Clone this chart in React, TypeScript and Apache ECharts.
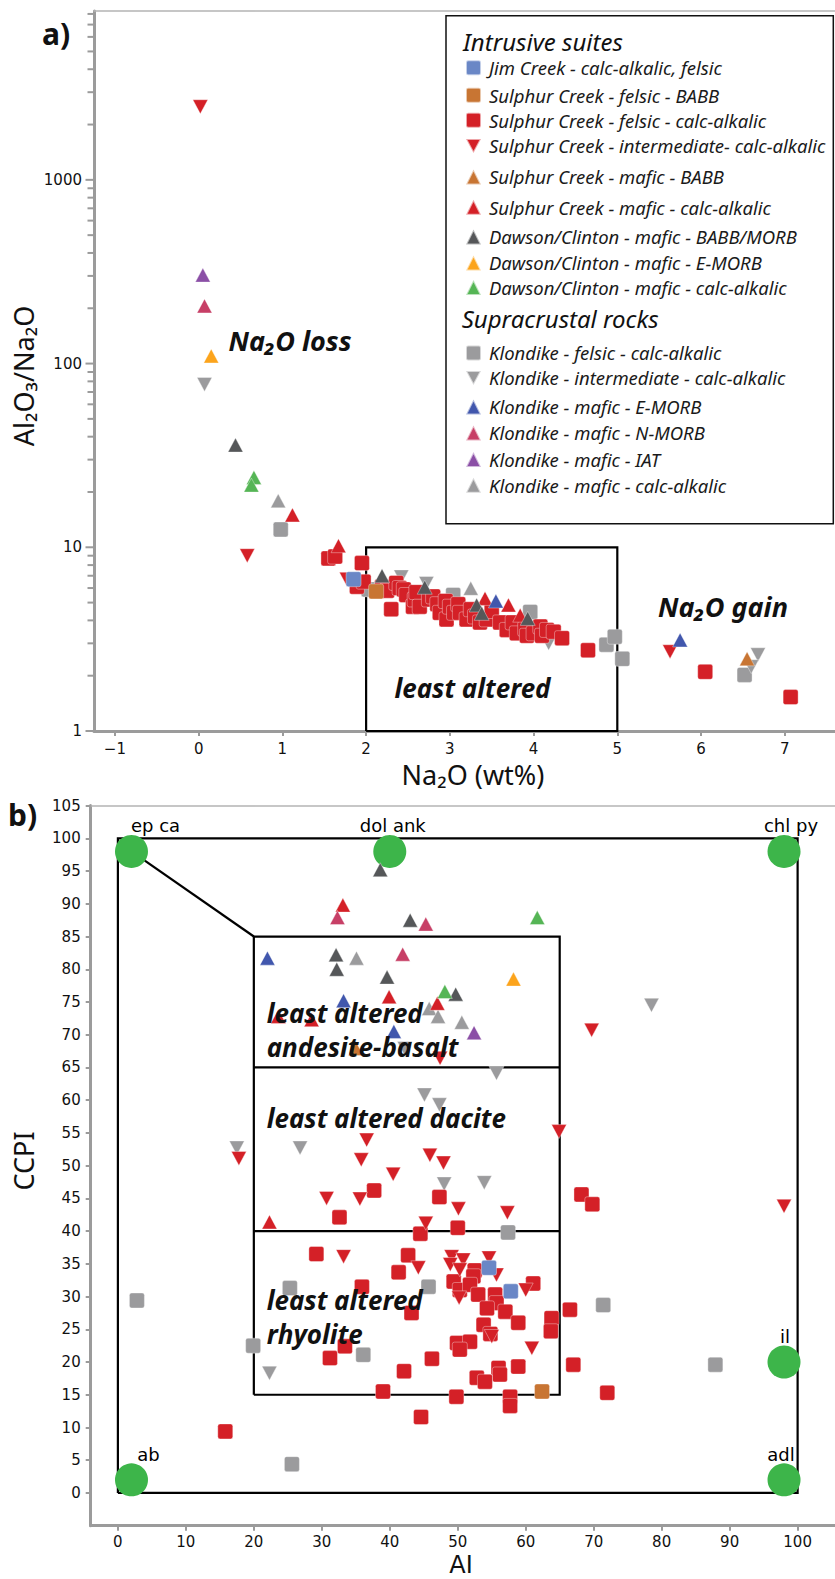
import { useEffect, useRef } from 'react';
import * as echarts from 'echarts';

// ---------- Groups (legend order) ----------
const intrusiveNames = [
  'Jim Creek - calc-alkalic, felsic',
  'Sulphur Creek - felsic - BABB',
  'Sulphur Creek - felsic - calc-alkalic',
  'Sulphur Creek - intermediate- calc-alkalic',
  'Sulphur Creek - mafic - BABB',
  'Sulphur Creek - mafic - calc-alkalic',
  'Dawson/Clinton - mafic - BABB/MORB',
  'Dawson/Clinton - mafic - E-MORB',
  'Dawson/Clinton - mafic - calc-alkalic',
];
const supracrustalNames = [
  'Klondike - felsic - calc-alkalic',
  'Klondike - intermediate - calc-alkalic',
  'Klondike - mafic - E-MORB',
  'Klondike - mafic - N-MORB',
  'Klondike - mafic - IAT',
  'Klondike - mafic - calc-alkalic',
];

// ---------- a) Na2O (wt%) vs Al2O3/Na2O ----------
const jimCreekNa2o = [[1.85, 6.7]];
const sulphurFelsicBabbNa2o = [[2.12, 5.75]];
const sulphurFelsicCaNa2o = [
  [1.55, 8.7], [1.63, 8.9], [1.95, 8.2], [1.89, 6.1], [1.97, 6.5], [2.19, 6.1], [2.25, 5.8],
  [2.3, 4.6], [2.36, 6.4], [2.4, 6.0], [2.45, 5.9], [2.48, 5.5], [2.56, 4.75], [2.58, 5.2],
  [2.6, 5.7], [2.64, 4.75], [2.75, 5.2], [2.8, 5.4], [2.85, 4.9], [2.88, 4.4], [2.95, 5.1],
  [2.96, 4.05], [3.0, 4.75], [3.05, 4.4], [3.1, 4.9], [3.12, 4.4], [3.2, 4.05], [3.25, 4.6],
  [3.3, 4.2], [3.36, 3.9], [3.44, 4.05], [3.5, 4.5], [3.6, 3.9], [3.68, 3.55], [3.75, 3.9],
  [3.8, 3.4], [3.9, 3.6], [3.92, 3.3], [4.0, 3.4], [4.08, 3.7], [4.1, 3.3], [4.16, 3.55],
  [4.24, 3.47], [4.34, 3.2], [4.65, 2.75], [6.05, 2.1], [7.07, 1.53],
];
const sulphurIntNa2o = [[0.02, 2500], [0.58, 9.0], [1.77, 6.7], [5.63, 2.7]];
const sulphurMaficBabbNa2o = [[6.55, 2.47]];
const sulphurMaficCaNa2o = [[1.12, 15], [1.67, 10.2], [3.42, 5.27], [3.7, 4.85], [3.84, 4.27]];
const dawsonBabbNa2o = [[0.44, 36], [2.19, 7.0], [2.7, 6.06], [3.32, 4.85], [3.38, 4.37], [3.93, 4.1]];
const dawsonEmorbNa2o = [[0.15, 110]];
const dawsonCaNa2o = [[0.66, 24], [0.63, 21.8]];
const klondikeFelsicNa2o = [
  [0.98, 12.5], [2.03, 5.9], [3.04, 5.5], [3.84, 3.55], [3.96, 4.45], [4.87, 2.95],
  [4.97, 3.26], [5.06, 2.47], [6.52, 2.02],
];
const klondikeIntNa2o = [[0.07, 77], [2.42, 6.9], [2.72, 6.35], [4.18, 3.0], [6.68, 2.6], [6.6, 2.24]];
const klondikeEmorbNa2o = [[3.55, 5.1], [5.75, 3.13]];
const klondikeNmorbNa2o = [[0.07, 206]];
const klondikeIatNa2o = [[0.05, 303]];
const klondikeMaficCaNa2o = [[0.95, 17.9], [3.25, 5.98]];

// ---------- b) AI vs CCPI (alteration box plot) ----------
const jimCreekAi = [[54.6, 34.4], [57.8, 30.8]];
const sulphurFelsicBabbAi = [[62.4, 15.5]];
const sulphurFelsicCaAi = [
  [37.7, 46.2], [47.3, 45.2], [68.2, 45.6], [69.8, 44.1], [32.6, 42.1], [44.5, 39.6], [50.0, 40.5],
  [29.2, 36.5], [42.7, 36.3], [41.3, 33.7], [52.5, 34.0], [52.3, 33.1], [49.4, 32.3], [50.3, 31.0],
  [51.8, 31.8], [53.0, 30.3], [35.9, 31.5], [61.1, 32.0], [55.5, 30.3], [55.7, 29.0], [57.0, 27.7],
  [54.3, 28.2], [43.2, 27.5], [66.5, 28.0], [63.8, 26.7], [63.7, 24.7], [58.9, 26.0], [53.8, 25.7],
  [54.8, 24.3], [49.9, 22.9], [51.8, 23.1], [50.3, 21.9], [33.4, 22.4], [31.2, 20.6], [46.2, 20.5],
  [42.1, 18.6], [67.0, 19.6], [58.9, 19.3], [56.0, 19.1], [56.2, 18.1], [52.8, 17.6], [54.0, 17.0],
  [39.0, 15.5], [49.8, 14.7], [57.7, 14.7], [57.7, 13.3], [72.0, 15.3], [44.6, 11.6], [15.8, 9.4],
];
const sulphurIntAi = [
  [36.6, 53.9], [35.8, 50.9], [17.8, 51.1], [40.5, 48.7], [45.9, 51.6], [47.9, 50.4], [30.7, 45.0],
  [35.6, 44.9], [50.1, 43.4], [57.3, 42.8], [45.3, 41.2], [33.2, 36.1], [44.2, 34.4], [49.1, 36.1],
  [50.8, 35.6], [48.9, 34.9], [50.3, 34.1], [54.6, 35.9], [55.7, 33.3], [50.2, 29.8], [60.0, 31.0],
  [55.0, 23.9], [60.9, 22.1], [64.9, 55.2], [69.7, 70.7], [47.4, 66.4], [98.0, 43.8],
];
const sulphurMaficBabbAi = [[35.0, 67.9]];
const sulphurMaficCaAi = [[33.1, 89.8], [39.9, 75.8], [47.0, 74.8], [23.6, 72.8], [28.5, 72.3], [22.3, 41.4]];
const dawsonBabbAi = [[38.6, 95.2], [43.0, 87.5], [32.1, 82.2], [32.2, 80.0], [39.6, 78.8], [49.7, 76.2]];
const dawsonEmorbAi = [[58.2, 78.5]];
const dawsonCaAi = [[61.7, 87.9], [48.1, 76.6]];
const klondikeFelsicAi = [
  [2.8, 29.4], [25.3, 31.3], [19.9, 22.5], [36.1, 21.1], [25.6, 4.4], [45.7, 31.5],
  [57.4, 39.8], [71.4, 28.7], [87.9, 19.6],
];
const klondikeIntAi = [
  [17.5, 52.7], [26.8, 52.7], [22.3, 18.3], [48.0, 47.2], [53.9, 47.4], [45.1, 60.8],
  [47.3, 59.3], [55.7, 64.1], [78.5, 74.5], [42.2, 67.9],
];
const klondikeEmorbAi = [[22.0, 81.7], [33.2, 75.2], [40.6, 70.5]];
const klondikeNmorbAi = [[32.3, 87.9], [45.3, 86.9], [41.9, 82.3]];
const klondikeIatAi = [[52.4, 70.3]];
const klondikeMaficCaAi = [[35.1, 81.7], [45.8, 74.0], [47.1, 72.8], [50.6, 71.9]];

// Mineral end-members of the box plot
const endMemberNames = ['ep ca', 'dol ank', 'chl py', 'il', 'ab', 'adl'];
const endMemberValues = [[2, 98], [40, 98], [98, 98], [98, 20], [2, 2], [98, 2]];
const endMemberLabelShift = [24, 3, 7, 1, 17, -3];

// Field outlines
const na2oFieldLines = [[[2, 1], [5, 1], [5, 10], [2, 10], [2, 1]]];
const aiFieldLines = [
  [[0, 0], [100, 0], [100, 100], [0, 100], [0, 0]],
  [[20, 15], [65, 15], [65, 85], [20, 85], [20, 15]],
  [[20, 40], [65, 40]],
  [[20, 65], [65, 65]],
  [[2, 98], [20, 85]],
];

// Axis ticks
const na2oTicks = [-1, 0, 1, 2, 3, 4, 5, 6, 7];
const ratioMajorTicks = [1, 10, 100, 1000];
const ratioMinorTicks = [
  2, 3, 4, 5, 6, 7, 8, 9,
  20, 30, 40, 50, 60, 70, 80, 90,
  200, 300, 400, 500, 600, 700, 800, 900,
  2000, 3000, 4000, 5000, 6000, 7000, 8000,
];
const aiTicks = [0, 10, 20, 30, 40, 50, 60, 70, 80, 90, 100];
const ccpiTicks = [0, 5, 10, 15, 20, 25, 30, 35, 40, 45, 50, 55, 60, 65, 70, 75, 80, 85, 90, 95, 100, 105];

// ---------- Marker styles ----------
const SQUARE = 'path://M1.5,0H8.5Q10,0 10,1.5V8.5Q10,10 8.5,10H1.5Q0,10 0,8.5V1.5Q0,0 1.5,0Z';
const UP = 'triangle';
const DOWN = 'path://M0,0H10L5,9.3Z';

const RED = '#d42027';
const GREY = '#9b9b9d';

const groups = [
  { name: intrusiveNames[0], color: '#6a87c6', marker: SQUARE, a: jimCreekNa2o, b: jimCreekAi },
  { name: intrusiveNames[1], color: '#c87533', marker: SQUARE, a: sulphurFelsicBabbNa2o, b: sulphurFelsicBabbAi },
  { name: intrusiveNames[2], color: RED, marker: SQUARE, a: sulphurFelsicCaNa2o, b: sulphurFelsicCaAi },
  { name: intrusiveNames[3], color: RED, marker: DOWN, a: sulphurIntNa2o, b: sulphurIntAi },
  { name: intrusiveNames[4], color: '#c87533', marker: UP, a: sulphurMaficBabbNa2o, b: sulphurMaficBabbAi },
  { name: intrusiveNames[5], color: RED, marker: UP, a: sulphurMaficCaNa2o, b: sulphurMaficCaAi },
  { name: intrusiveNames[6], color: '#555759', marker: UP, a: dawsonBabbNa2o, b: dawsonBabbAi },
  { name: intrusiveNames[7], color: '#fca41c', marker: UP, a: dawsonEmorbNa2o, b: dawsonEmorbAi },
  { name: intrusiveNames[8], color: '#55b555', marker: UP, a: dawsonCaNa2o, b: dawsonCaAi },
  { name: supracrustalNames[0], color: GREY, marker: SQUARE, a: klondikeFelsicNa2o, b: klondikeFelsicAi },
  { name: supracrustalNames[1], color: GREY, marker: DOWN, a: klondikeIntNa2o, b: klondikeIntAi },
  { name: supracrustalNames[2], color: '#4157ad', marker: UP, a: klondikeEmorbNa2o, b: klondikeEmorbAi },
  { name: supracrustalNames[3], color: '#c73f66', marker: UP, a: klondikeNmorbNa2o, b: klondikeNmorbAi },
  { name: supracrustalNames[4], color: '#8b4fa6', marker: UP, a: klondikeIatNa2o, b: klondikeIatAi },
  { name: supracrustalNames[5], color: GREY, marker: UP, a: klondikeMaficCaNa2o, b: klondikeMaficCaAi },
];

// Paint order: grey felsic samples at the back, triangles on top
const drawOrder = [9, 10, 2, 3, 1, 0, 14, 4, 5, 6, 7, 8, 11, 12, 13];

// Legend row centres (px)
const legendRowY = [67.5, 95, 120, 145.7, 176.7, 207, 236.7, 262.7, 287.3, 352.7, 377.7, 406.7, 432.7, 459.3, 485];

const AXIS_GREY = '#9b9b9b';
const TICK_FONT = '"DejaVu Sans", sans-serif';
const TEXT_FONT = '"Noto Sans", "Open Sans", "DejaVu Sans", sans-serif';

const TOP_X = [-1.25, 7.6];
const TOP_Y = [1, 8300];
const BOT_X = [-4, 105.5];
const BOT_Y = [-5, 105];

function outlineSeries(lines: number[][][], xi: number, yi: number) {
  return {
    type: 'custom',
    xAxisIndex: xi,
    yAxisIndex: yi,
    silent: true,
    clip: false,
    data: lines.map((l) => l[0]),
    renderItem: (params: any, api: any) => ({
      type: 'polyline',
      shape: { points: lines[params.dataIndex].map((p) => api.coord(p)) },
      style: { stroke: '#000', lineWidth: 2.2, fill: null },
    }),
  };
}

function text(x: number, y: number, t: string, extra: any = {}, elExtra: any = {}) {
  return {
    type: 'text',
    x,
    y,
    z: 100,
    ...elExtra,
    style: {
      text: t,
      fill: '#111',
      fontFamily: TEXT_FONT,
      fontSize: 26,
      align: 'left',
      verticalAlign: 'middle',
      ...extra,
    },
  };
}

function buildOption(): any {
  const tickLabel = { fontFamily: TICK_FONT, fontSize: 15, color: '#111' };
  const mainLine = { show: true, onZero: false, lineStyle: { color: AXIS_GREY, width: 3 } };
  const tickStyle = { color: AXIS_GREY, width: 2 };
  const borderAxis = (grid: number, ext: number[]) => ({
    gridIndex: grid,
    type: 'value',
    position: 'top',
    min: ext[0],
    max: ext[1],
    axisLine: { show: true, onZero: false, lineStyle: { color: '#b4b4b4', width: 1.5 } },
    axisTick: { show: false },
    axisLabel: { show: false },
    splitLine: { show: false },
  });

  const scatter = drawOrder.flatMap((gi) => {
    const g = groups[gi];
    const base = {
      type: 'scatter',
      name: g.name,
      symbol: g.marker,
      symbolSize: g.marker === SQUARE ? [15, 15] : [15, 14],
      itemStyle: { color: g.color, borderColor: 'rgba(255,255,255,0.6)', borderWidth: 0.6, opacity: 1 },
      emphasis: { disabled: true },
    };
    return [
      { ...base, xAxisIndex: 0, yAxisIndex: 0, data: g.a },
      { ...base, xAxisIndex: 2, yAxisIndex: 1, data: g.b },
    ];
  });

  const logTicks = {
    type: 'custom',
    xAxisIndex: 0,
    yAxisIndex: 0,
    silent: true,
    clip: false,
    data: [
      ...ratioMajorTicks.map((v) => [TOP_X[0], v, 7]),
      ...ratioMinorTicks.map((v) => [TOP_X[0], v, 5]),
    ],
    renderItem: (_p: any, api: any) => {
      const c = api.coord([api.value(0), api.value(1)]);
      const len = api.value(2);
      return {
        type: 'line',
        shape: { x1: c[0] - 1.5 - len, y1: c[1], x2: c[0], y2: c[1] },
        style: { stroke: AXIS_GREY, lineWidth: 2 },
      };
    },
  };

  const endMembers = {
    type: 'scatter',
    xAxisIndex: 2,
    yAxisIndex: 1,
    symbol: 'circle',
    symbolSize: 33,
    itemStyle: { color: '#3db54a', opacity: 1 },
    emphasis: { disabled: true },
    label: {
      show: true,
      position: 'top',
      distance: 0,
      formatter: '{b}',
      fontFamily: TICK_FONT,
      fontSize: 18,
      color: '#000',
    },
    data: endMemberNames.map((n, i) => ({
      name: n,
      value: endMemberValues[i],
      label: { offset: [endMemberLabelShift[i], 0] },
    })),
  };

  const allNames = [...intrusiveNames, ...supracrustalNames];
  const legends = allNames.map((n, i) => ({
    data: [n],
    orient: 'vertical',
    left: 465,
    top: legendRowY[i] - 9.25,
    padding: 0,
    itemWidth: 15,
    itemHeight: 15,
    itemGap: 0,
    textStyle: {
      fontFamily: TEXT_FONT,
      fontStyle: 'italic',
      fontSize: 18.5,
      lineHeight: 18.5,
      color: '#1a1a1a',
      padding: [0, 0, 0, 3],
    },
  }));

  const bi = { fontWeight: 'bold', fontStyle: 'italic', fontSize: 26, lineHeight: 28 };

  return {
    animation: false,
    backgroundColor: '#fff',
    legend: legends,
    grid: [
      { left: 94, top: 11, width: 741, height: 720 },
      { left: 90.7, top: 805.6, width: 744.3, height: 720.1 },
    ],
    xAxis: [
      {
        gridIndex: 0,
        type: 'value',
        position: 'bottom',
        min: TOP_X[0],
        max: TOP_X[1],
        axisLine: mainLine,
        axisTick: { show: true, customValues: na2oTicks, length: 5, lineStyle: tickStyle },
        axisLabel: {
          customValues: na2oTicks,
          margin: 10,
          formatter: (v: number) => String(v).replace('-', '\u2212'),
          ...tickLabel,
        },
        splitLine: { show: false },
      },
      borderAxis(0, TOP_X),
      {
        gridIndex: 1,
        type: 'value',
        position: 'bottom',
        min: BOT_X[0],
        max: BOT_X[1],
        axisLine: mainLine,
        axisTick: { show: true, customValues: aiTicks, length: 5, lineStyle: tickStyle },
        axisLabel: { customValues: aiTicks, margin: 9, ...tickLabel },
        splitLine: { show: false },
      },
      borderAxis(1, BOT_X),
    ],
    yAxis: [
      {
        gridIndex: 0,
        type: 'log',
        logBase: 10,
        min: TOP_Y[0],
        max: TOP_Y[1],
        axisLine: mainLine,
        axisTick: { show: false },
        minorTick: { show: false },
        axisLabel: {
          margin: 12,
          formatter: (v: number) => {
            const e = Math.log10(v);
            return Math.abs(e - Math.round(e)) < 1e-6 ? String(Math.round(v)) : '';
          },
          ...tickLabel,
        },
        splitLine: { show: false },
      },
      {
        gridIndex: 1,
        type: 'value',
        min: BOT_Y[0],
        max: BOT_Y[1],
        axisLine: mainLine,
        axisTick: { show: true, customValues: ccpiTicks, length: 5, lineStyle: tickStyle },
        axisLabel: { customValues: ccpiTicks, margin: 10, ...tickLabel },
        splitLine: { show: false },
      },
    ],
    series: [
      outlineSeries(na2oFieldLines, 0, 0),
      outlineSeries(aiFieldLines, 2, 1),
      logTicks,
      endMembers,
      ...scatter,
    ],
    graphic: [
      {
        type: 'rect',
        z: 1,
        shape: { x: 446, y: 15.7, width: 387.3, height: 508 },
        style: { fill: '#fff', stroke: '#111', lineWidth: 1.5 },
      },
      text(463, 41.5, 'Intrusive suites', { fontStyle: 'italic', fontSize: 24, lineHeight: 26 }),
      text(461.7, 318.3, 'Supracrustal rocks', { fontStyle: 'italic', fontSize: 24, lineHeight: 26 }),
      text(42, 33, 'a)', { fontWeight: 'bold', fontSize: 30, lineHeight: 32 }),
      text(8, 814.5, 'b)', { fontWeight: 'bold', fontSize: 30, lineHeight: 32 }),
      text(23, 376, 'Al\u2082O\u2083/Na\u2082O', { fontSize: 27, lineHeight: 28, align: 'center' }, { rotation: Math.PI / 2 }),
      text(473, 774, 'Na\u2082O (wt%)', { fontSize: 27, lineHeight: 28, align: 'center' }),
      text(23, 1161, 'CCPI', { fontSize: 27, lineHeight: 28, align: 'center' }, { rotation: Math.PI / 2 }),
      text(461, 1565, 'AI', { fontFamily: TICK_FONT, fontSize: 24, lineHeight: 24, align: 'center' }),
      text(290, 340, 'Na\u2082O loss', { ...bi, fontSize: 27, align: 'center' }),
      text(723, 606, 'Na\u2082O gain', { ...bi, fontSize: 27, align: 'center' }),
      text(472.5, 687.5, 'least altered', { ...bi, align: 'center' }),
      text(266.7, 995.4, 'least altered\nandesite-basalt', { ...bi, lineHeight: 34.2, verticalAlign: 'top' }),
      text(266.7, 1117.5, 'least altered dacite', bi),
      text(266.7, 1283, 'least altered\nrhyolite', { ...bi, lineHeight: 34.2, verticalAlign: 'top' }),
    ],
  };
}

export default function App() {
  const ref = useRef<HTMLDivElement>(null);
  useEffect(() => {
    if (!ref.current) return;
    const chart = echarts.init(ref.current, undefined, { renderer: 'svg' });
    chart.setOption(buildOption());
    return () => chart.dispose();
  }, []);
  return (
    <div
      ref={ref}
      style={{ position: 'absolute', left: 0, top: 0, width: 835, height: 1579, background: '#fff' }}
    />
  );
}
